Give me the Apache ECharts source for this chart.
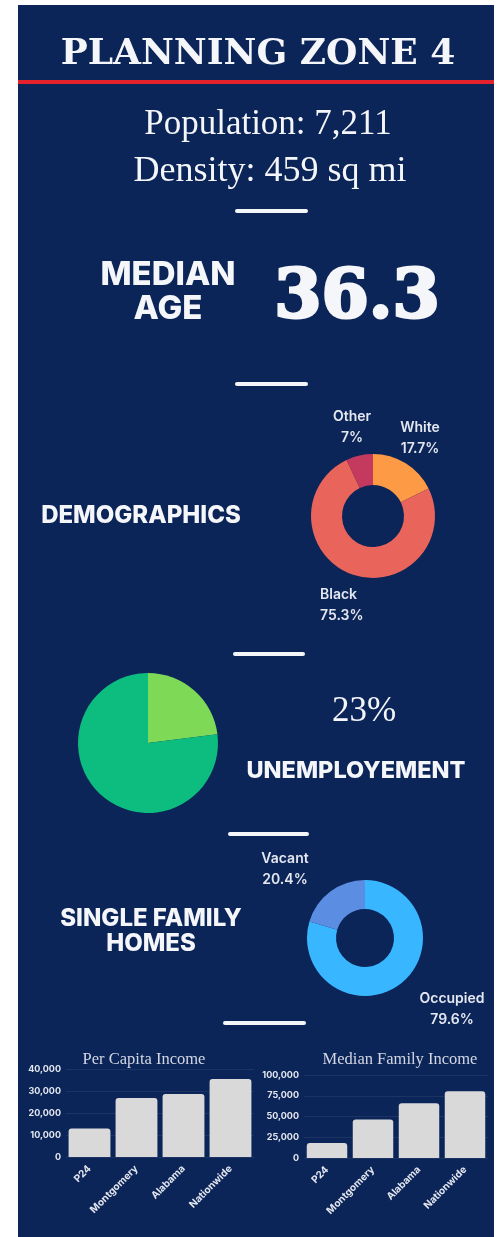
<!DOCTYPE html>
<html>
<head>
<meta charset="utf-8">
<script src="https://cdn.jsdelivr.net/npm/echarts@6/dist/echarts.min.js"></script>
<style>
  html, body { margin: 0; padding: 0; background: #ffffff; }
  #chart { width: 499px; height: 1237px; }
</style>
</head>
<body>
<div id="chart"></div>
<script>
// Zone profile figures
const zoneName = 'PLANNING ZONE 4';
const population = 7211;
const densityPerSqMi = 459;
const medianAge = 36.3;

// Race shares (%)
const raceNames = ['White', 'Black', 'Other'];
const raceShares = [17.7, 75.3, 7];

// Unemployment rate (%)
const unemploymentRate = 23;

// Single family homes occupancy (%)
const housingNames = ['Occupied', 'Vacant'];
const housingShares = [79.6, 20.4];

// Income comparison
const incomeCategories = ['P24', 'Montgomery', 'Alabama', 'Nationwide'];
const perCapitaIncome = [13000, 26800, 28600, 35400];
const medianFamilyIncome = [18000, 46500, 66000, 80500];

const NAVY = '#0b2558';
const WHITE = '#f5f6fa';
const LABEL = '#e4e7ef';
const SANS = 'Inter, "DejaVu Sans", sans-serif';
const SERIF = '"Liberation Serif", serif';
const WIDE_SERIF = '"DejaVu Serif", serif';

const fmt = v => Number(v).toLocaleString('en-US');

const chart = echarts.init(document.getElementById('chart'), null, { renderer: 'canvas' });

// label anchors around the donuts, keyed by slice name
const sliceLabelPos = {
  White:    { x: 420, y: 438, align: 'center' },
  Black:    { x: 320, y: 605, align: 'left' },
  Other:    { x: 352, y: 427, align: 'center' },
  Vacant:   { x: 285, y: 869, align: 'center' },
  Occupied: { x: 452, y: 1009, align: 'center' }
};
const placeLabels = names => params => {
  const p = sliceLabelPos[names[params.dataIndex]];
  return { x: p.x, y: p.y, align: p.align, verticalAlign: 'middle' };
};

const sliceLabel = {
  show: true,
  position: 'outside',
  formatter: '{b}\n{c}%',
  overflow: 'none',
  color: LABEL,
  fontFamily: SANS,
  fontWeight: 600,
  fontSize: 14,
  lineHeight: 21
};

const divider = (x1, x2, y) => ({
  type: 'line',
  shape: { x1, y1: y, x2, y2: y },
  style: { stroke: WHITE, lineWidth: 4, lineCap: 'round' },
  z: 5
});

const heading = (text, x, y, size) => ({
  type: 'text',
  x, y,
  style: {
    text, fill: WHITE, fontFamily: SANS, fontWeight: 800, fontSize: size,
    textAlign: 'center', textVerticalAlign: 'middle', lineHeight: size * 1.05
  },
  z: 5
});

const serifText = (text, x, y, size) => ({
  type: 'text',
  x, y,
  style: {
    text, fill: WHITE, fontFamily: SERIF, fontSize: size,
    textAlign: 'center', textVerticalAlign: 'middle'
  },
  z: 5
});

const valueAxis = (max, interval) => ({
  type: 'value',
  min: 0, max, interval,
  axisLine: { show: false },
  axisTick: { show: false },
  splitLine: { lineStyle: { color: 'rgba(255,255,255,0.07)', width: 1 } },
  axisLabel: {
    color: LABEL, fontFamily: SANS, fontWeight: 700, fontSize: 9, margin: 5,
    formatter: v => fmt(v)
  }
});

const catAxis = gridIndex => ({
  type: 'category',
  gridIndex,
  data: incomeCategories,
  axisLine: { show: false },
  axisTick: { show: false },
  axisLabel: {
    interval: 0, rotate: 45, color: LABEL, fontFamily: SANS, fontWeight: 700,
    fontSize: 10, margin: 10
  }
});

const barStyle = {
  color: '#d9d9d9',
  borderRadius: [3, 3, 0, 0]
};

const chartTitle = (text, x) => ({
  text, left: x, top: 1046, textAlign: 'center',
  textStyle: { color: '#d3d7e3', fontFamily: SERIF, fontWeight: 'normal', fontSize: 16.5 }
});

const option = {
  backgroundColor: '#ffffff',
  animation: false,
  title: [
    chartTitle('Per Capita Income', 139),
    chartTitle('Median Family Income', 395)
  ],
  grid: [
    { left: 66, top: 1069, width: 188, height: 88 },
    { left: 304, top: 1075, width: 184, height: 83 }
  ],
  xAxis: [catAxis(0), catAxis(1)],
  yAxis: [
    Object.assign(valueAxis(40000, 10000), { gridIndex: 0 }),
    Object.assign(valueAxis(100000, 25000), { gridIndex: 1 })
  ],
  graphic: [
    // panel
    { type: 'rect', shape: { x: 18, y: 5, width: 476, height: 1232 }, style: { fill: NAVY }, z: 0 },
    // header rule
    { type: 'rect', shape: { x: 18, y: 80, width: 476, height: 4 }, style: { fill: '#e3222b' }, z: 5 },
    {
      type: 'text', x: 258, y: 55,
      style: {
        text: zoneName, fill: WHITE, fontFamily: WIDE_SERIF, fontWeight: 'bold', fontSize: 36,
        textAlign: 'center', textVerticalAlign: 'middle',
        shadowColor: 'rgba(0,0,0,0.55)', shadowBlur: 3, shadowOffsetX: 1, shadowOffsetY: 2
      },
      z: 5
    },
    serifText('Population: ' + fmt(population), 268, 125, 35),
    serifText('Density: ' + fmt(densityPerSqMi) + ' sq mi', 270, 172, 36),
    divider(237, 306, 211),
    heading('MEDIAN\nAGE', 168, 292, 33),
    {
      type: 'text', x: 357, y: 299,
      style: {
        text: String(medianAge), fill: WHITE, fontFamily: WIDE_SERIF, fontWeight: 'bold', fontSize: 68,
        stroke: WHITE, lineWidth: 3,
        textAlign: 'center', textVerticalAlign: 'middle'
      },
      z: 5
    },
    divider(237, 306, 384),
    heading('DEMOGRAPHICS', 141, 516, 24),
    divider(235, 303, 654),
    serifText(unemploymentRate + '%', 364, 712, 35),
    heading('UNEMPLOYEMENT', 356, 771, 23.5),
    divider(230, 307, 834),
    heading('SINGLE FAMILY\nHOMES', 151, 931, 24),
    divider(225, 304, 1023)
  ],
  series: [
    {
      name: 'Demographics',
      type: 'pie',
      center: [373, 516],
      radius: [31, 62],
      startAngle: 90,
      clockwise: true,
      silent: true,
      z: 3,
      label: sliceLabel,
      labelLine: { show: false },
      labelLayout: placeLabels(raceNames),
      data: raceNames.map((n, i) => ({
        name: n, value: raceShares[i],
        itemStyle: { color: ['#fd9a45', '#e9645a', '#c43a5f'][i] }
      }))
    },
    {
      name: 'Unemployment',
      type: 'pie',
      center: [148, 743],
      radius: [0, 70],
      startAngle: 90,
      clockwise: true,
      silent: true,
      z: 3,
      label: { show: false },
      labelLine: { show: false },
      data: [
        { name: 'Unemployed', value: unemploymentRate, itemStyle: { color: '#7ed957' } },
        { name: 'Employed', value: 100 - unemploymentRate, itemStyle: { color: '#0dbd7f' } }
      ]
    },
    {
      name: 'Single Family Homes',
      type: 'pie',
      center: [365, 938],
      radius: [29, 58],
      startAngle: 90,
      clockwise: true,
      silent: true,
      z: 3,
      label: sliceLabel,
      labelLine: { show: false },
      labelLayout: placeLabels(housingNames),
      data: housingNames.map((n, i) => ({
        name: n, value: housingShares[i],
        itemStyle: { color: ['#38b6ff', '#5b8ee3'][i] }
      }))
    },
    {
      name: 'Per Capita Income',
      type: 'bar',
      xAxisIndex: 0, yAxisIndex: 0,
      barCategoryGap: '11%',
      itemStyle: barStyle,
      data: perCapitaIncome
    },
    {
      name: 'Median Family Income',
      type: 'bar',
      xAxisIndex: 1, yAxisIndex: 1,
      barCategoryGap: '12%',
      itemStyle: barStyle,
      data: medianFamilyIncome
    }
  ]
};

chart.setOption(option);
</script>
</body>
</html>
